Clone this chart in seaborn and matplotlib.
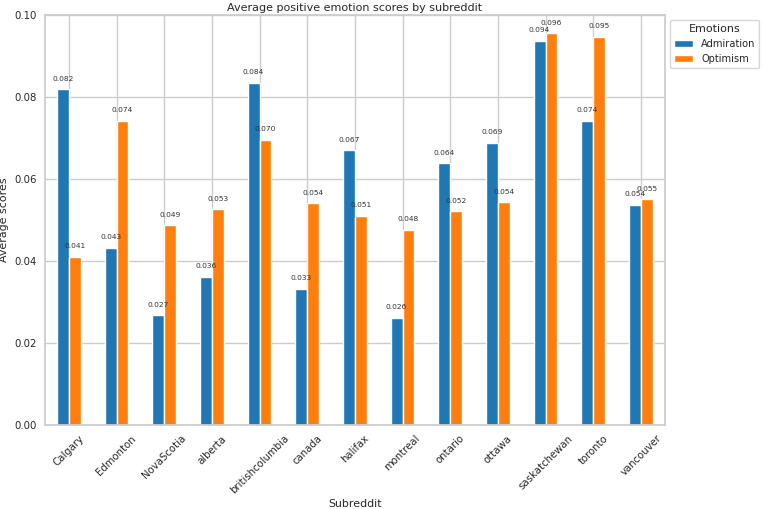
import pandas as pd
import numpy as np
import seaborn as sns
import matplotlib
matplotlib.use('Agg')
import matplotlib.pyplot as plt

subreddits = ['Calgary', 'Edmonton', 'NovaScotia', 'alberta', 'britishcolumbia', 'canada',
              'halifax', 'montreal', 'ontario', 'ottawa', 'saskatchewan', 'toronto', 'vancouver']
admiration = [0.0819, 0.0432, 0.0268, 0.0362, 0.0835, 0.0332, 0.0670, 0.0262, 0.0638, 0.0689, 0.0937, 0.0742, 0.0537]
optimism = [0.0410, 0.0742, 0.0488, 0.0527, 0.0696, 0.0541, 0.0510, 0.0476, 0.0522, 0.0543, 0.0956, 0.0947, 0.0551]
emotions = ['Admiration', 'Optimism']

df = pd.DataFrame({'Subreddit': subreddits, 'Admiration': admiration, 'Optimism': optimism})
long_df = df.melt(id_vars='Subreddit', var_name='Emotions', value_name='score')

sns.set_theme(style='whitegrid')
fig, ax = plt.subplots(figsize=(7.64, 5.09), dpi=100)
sns.barplot(data=long_df, x='Subreddit', y='score', hue='Emotions', order=subreddits,
            hue_order=emotions, palette=['#1f77b4', '#ff7f0e'], width=0.5, saturation=1,
            errorbar=None, ax=ax, zorder=2)

# value labels on top of bars
for c in ax.containers:
    for p in c:
        ax.annotate('%.3f' % p.get_height(), (p.get_x() + p.get_width() / 2., p.get_height()),
                    ha='center', va='center', xytext=(0, 7.5), textcoords='offset points',
                    fontsize=5.4, color='#333333')

ax.set_ylim(0, 0.10)
ax.set_yticks(np.arange(0, 0.101, 0.02))
ax.tick_params(axis='y', labelsize=7.3, length=0, pad=5.8)
ax.tick_params(axis='x', labelsize=7.3, length=0, pad=6)
plt.setp(ax.get_xticklabels(), rotation=45, ha='center')
ax.set_xlabel('Subreddit', fontsize=7.9, labelpad=2)
ax.set_ylabel('Average scores', fontsize=7.9, labelpad=4)
ax.set_title('Average positive emotion scores by subreddit', fontsize=8, pad=3)
sns.move_legend(ax, 'upper left', bbox_to_anchor=(1.0, 1.0), title='Emotions',
                fontsize=7.1, title_fontsize=8)
ax.xaxis.grid(True)
ax.set_axisbelow(True)

fig.subplots_adjust(left=0.059, right=0.870, top=0.9705, bottom=0.165)
plt.savefig('out.png', dpi=100)
plt.close()
